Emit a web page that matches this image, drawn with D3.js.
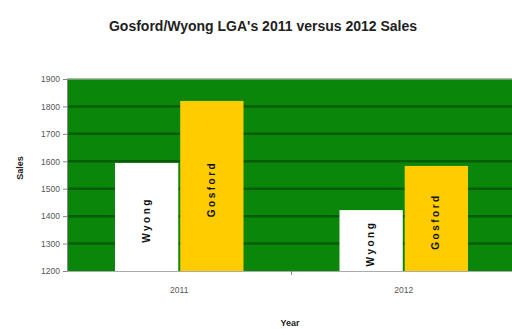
<!DOCTYPE html>
<html><head><meta charset="utf-8">
<script src="https://cdn.jsdelivr.net/npm/d3@7/dist/d3.min.js"></script>
<style>body{margin:0;background:#fff}svg{display:block;font-family:"Liberation Sans",Arial,sans-serif}</style>
</head><body><svg id="c" width="512" height="329"></svg>
<script>
const years = ["2011", "2012"];
const seriesNames = ["Wyong", "Gosford"];
const wyong = [3594, 3422];
const gosford = [3820, 3583];
const yTicks = [1200, 1300, 1400, 1500, 1600, 1700, 1800, 1900];
const yDomain = [3200, 3900];
const colors = ["#ffffff", "#ffcc00"];

const svg = d3.select("#c");
const m = {l: 67, t: 79, r: -4, b: 58};
const W = 512 - m.l - m.r, H = 329 - m.t - m.b;
const g = svg.append("g").attr("transform", `translate(${m.l},${m.t})`);

const x = d3.scaleBand().domain(years).range([0, W]).paddingInner(0).paddingOuter(0);
const x1 = d3.scaleBand().domain(seriesNames).range([48, x.bandwidth() - 48]).paddingInner(0.03);
const y = d3.scaleLinear().domain(yDomain).range([H, 0]);
const yLab = d3.scaleLinear().domain([yTicks[0], yTicks[yTicks.length-1]]).range([H, 0]);

g.append("rect").attr("width", W).attr("height", H).attr("fill", "#0a870a");
g.append("line").attr("x1",0).attr("x2",W).attr("y1",0).attr("y2",0).attr("stroke","#8aa88a").attr("stroke-width",1.5);
g.selectAll(".grid").data(yTicks.slice(1, -1)).join("line")
  .attr("x1", 0).attr("x2", W).attr("y1", d => yLab(d)).attr("y2", d => yLab(d))
  .attr("stroke", "#045c04").attr("stroke-width", 2.5);

const data = years.map((yr, i) => ({yr, vals: [wyong[i], gosford[i]]}));
const grp = g.selectAll(".grp").data(data).join("g").attr("transform", d => `translate(${x(d.yr)},0)`);
grp.selectAll("rect").data(d => d.vals.map((v, j) => ({v, s: seriesNames[j], j}))).join("rect")
  .attr("x", d => x1(d.s)).attr("width", x1.bandwidth())
  .attr("y", d => y(d.v)).attr("height", d => H - y(d.v))
  .attr("fill", d => colors[d.j]);
grp.selectAll("text").data(d => d.vals.map((v, j) => ({v, s: seriesNames[j]}))).join("text")
  .attr("transform", d => `translate(${x1(d.s) + x1.bandwidth()/2 + 3},${(y(d.v) + H)/2 + 3}) rotate(-90)`)
  .attr("text-anchor", "middle").attr("font-size", 10).attr("font-weight", "bold")
  .attr("letter-spacing", 2.5).attr("fill", "#111").text(d => d.s);

const ya = g.append("g").call(d3.axisLeft(yLab).tickValues(yTicks).tickSize(4).tickFormat(d3.format("d")));
ya.selectAll("path,line").attr("stroke", "#888");
ya.selectAll("text").attr("font-size", 8.5).attr("fill", "#555");

const xa = g.append("g").attr("transform", `translate(0,${H})`)
  .call(d3.axisBottom(x).tickSize(0).tickPadding(16));
xa.select("path").attr("stroke", "#aaa");
xa.selectAll("text").attr("font-size", 8.5).attr("fill", "#555");
g.append("line").attr("x1", x.step()).attr("x2", x.step()).attr("y1", H).attr("y2", H + 4).attr("stroke", "#888");

svg.append("text").attr("x", 263).attr("y", 31).attr("text-anchor", "middle")
  .attr("font-size", 14).attr("font-weight", "bold").attr("fill", "#222")
  .text("Gosford/Wyong LGA's 2011 versus 2012 Sales");
svg.append("text").attr("transform", "translate(23,168) rotate(-90)").attr("text-anchor", "middle")
  .attr("font-size", 9).attr("font-weight", "bold").attr("fill", "#222").text("Sales");
svg.append("text").attr("x", 290).attr("y", 326).attr("text-anchor", "middle")
  .attr("font-size", 9).attr("font-weight", "bold").attr("fill", "#222").text("Year");
</script></body></html>
